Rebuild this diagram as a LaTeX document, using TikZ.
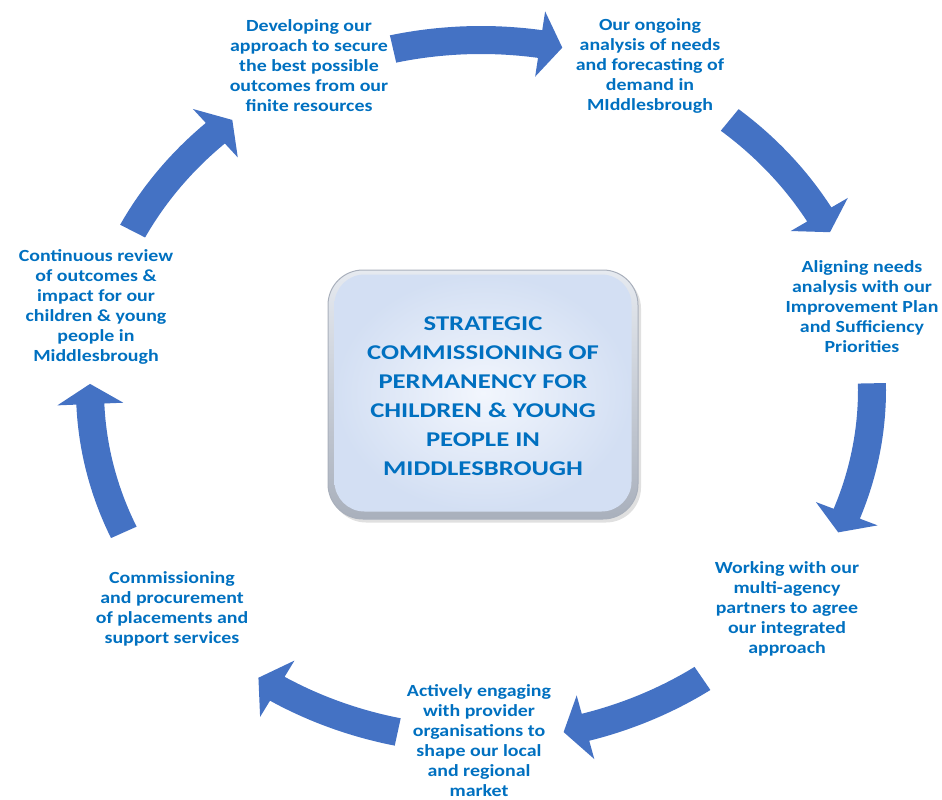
\documentclass[tikz,border=0pt]{standalone}
\usepackage{fontspec}
\setmainfont{Carlito}[FakeStretch=1.17]
\newfontfamily\corefont{Carlito}[FakeStretch=1.27]
\definecolor{arrowblue}{HTML}{4472C4}
\definecolor{txtblue}{HTML}{0070C0}
\definecolor{boxin}{HTML}{F2F6FD}
\definecolor{boxedge}{HTML}{D3DFF3}
\definecolor{rimtop}{HTML}{E6EAF0}
\definecolor{rimbot}{HTML}{A9B0BC}
\newcommand\cyclearrow[2]{%
  \pgfmathsetmacro\tbase{#2+3.3}%
  \fill[arrowblue] plot[domain=#1:\tbase,samples=40] ({481+405*cos(\x)},{390-364*sin(\x)})
   -- ({481+424*cos(\tbase)},{390-383*sin(\tbase)})
   -- ({481+391*cos(#2)},{390-350*sin(#2)})
   -- ({481+358*cos(\tbase)},{390-317*sin(\tbase)})
   -- plot[domain=\tbase:#1,samples=40] ({481+377*cos(\x)},{390-336*sin(\x)})
   -- cycle;}
\begin{document}
\begin{tikzpicture}[x=1pt,y=-1pt,
  lbl/.style={text=txtblue,font=\bfseries\fontsize{17}{20}\selectfont,align=center,inner sep=0pt},
  corebox/.style={minimum width=310pt,minimum height=249pt,rounded corners=35pt,inner sep=0pt},
  coretext/.style={text=txtblue,font=\corefont\bfseries\fontsize{21}{29}\selectfont,align=center}]
\useasboundingbox (0,0) rectangle (942,800);
% block arrows of the cycle
\cyclearrow{103}{78}
\cyclearrow{50.5}{26.8}
\cyclearrow{1.1}{-24}
\cyclearrow{-55.5}{-77.8}
\cyclearrow{-102.3}{-124.7}
\cyclearrow{-156}{-181}
\cyclearrow{153}{129.5}
% central box
\node[corebox,fill=black,opacity=0.12] (shadow) at (486,398) {};
\node[corebox,top color=rimtop,bottom color=rimbot,draw=rimbot,line width=1pt] (rim) at (483,394.5) {};
\node[corebox,minimum width=297pt,minimum height=237pt,rounded corners=30pt,inner color=boxin,outer color=boxedge] (core) at (483,393) {};
\node[coretext] (coretxt) at (483,396) {STRATEGIC\\COMMISSIONING OF\\PERMANENCY FOR\\CHILDREN \& YOUNG\\PEOPLE IN\\MIDDLESBROUGH};
% labels
\node[lbl] (t1) at (309,65.5) {Developing our\\approach to secure\\the best possible\\outcomes from our\\finite resources};
\node[lbl] (t2) at (650,65.5) {Our ongoing\\analysis of needs\\and forecasting of\\demand in\\MIddlesbrough};
\node[lbl] (t3) at (862,306.5) {Aligning needs\\analysis with our\\Improvement Plan\\and Sufficiency\\Priorities};
\node[lbl] (t4) at (787,608.5) {Working with our\\multi-agency\\partners to agree\\our integrated\\approach};
\node[lbl] (t5) at (479,740.5) {Actively engaging\\with provider\\organisations to\\shape our local\\and regional\\market};
\node[lbl] (t6) at (172,608.5) {Commissioning\\and procurement\\of placements and\\support services};
\node[lbl] (t7) at (96,306.5) {Continuous review\\of outcomes \&\\impact for our\\children \& young\\people in\\Middlesbrough};
\end{tikzpicture}
\end{document}
